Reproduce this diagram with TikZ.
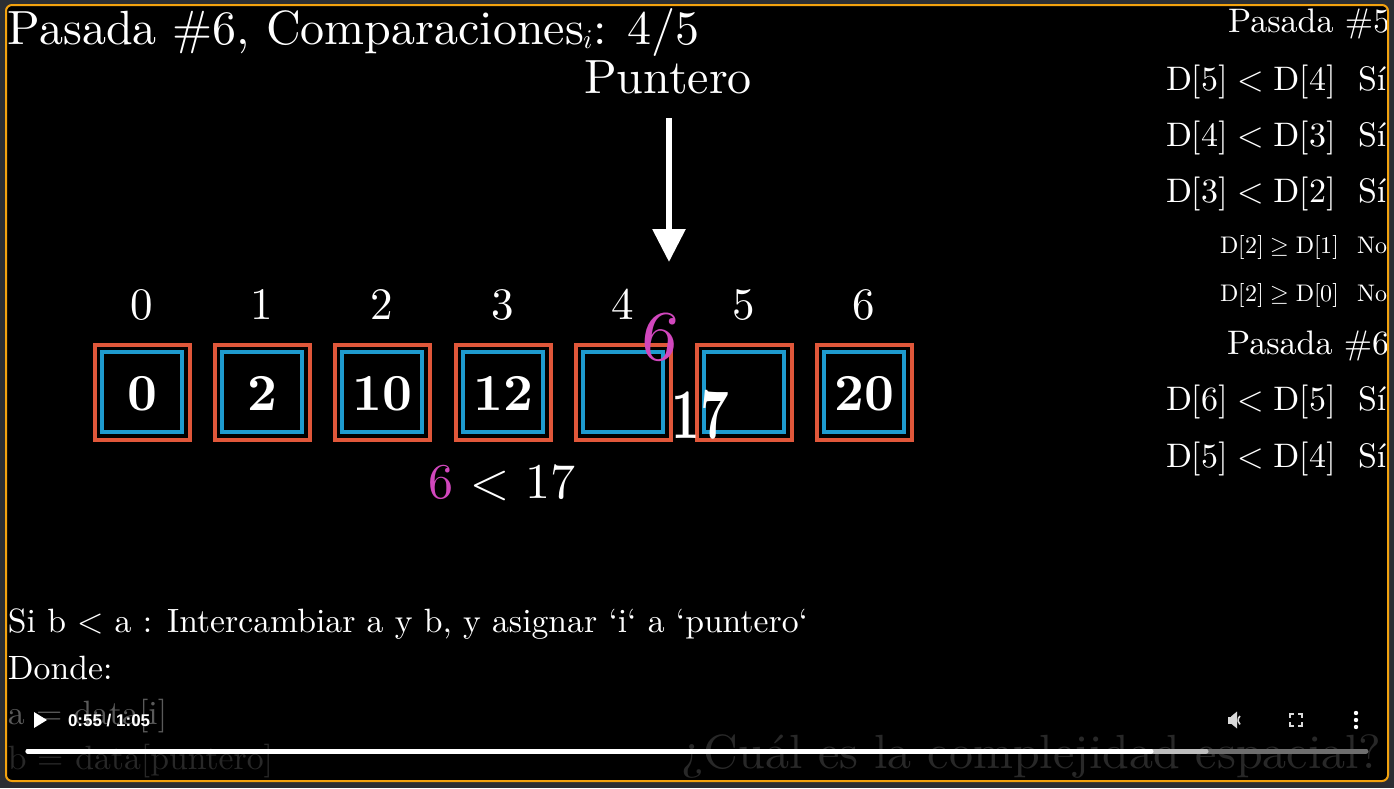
\documentclass[tikz,border=0pt]{standalone}
\usepackage{fontspec}
\usepackage{unicode-math}
\setmainfont{lmroman10}[Extension=.otf, UprightFont=*-regular, BoldFont=*-bold, ItalicFont=*-italic, BoldItalicFont=*-bolditalic]
\newfontfamily\uifont{Liberation Sans}
\usetikzlibrary{arrows.meta}
\definecolor{bggray}{HTML}{2B2E33}
\definecolor{frameorange}{HTML}{F2A20F}
\definecolor{boxorange}{HTML}{E0573A}
\definecolor{boxblue}{HTML}{1E9BCF}
\definecolor{mpink}{HTML}{D147BD}
\definecolor{fadeA}{HTML}{5A5A5A}
\definecolor{fadeB}{HTML}{282828}
\definecolor{barlight}{HTML}{BDBDBD}
\definecolor{bardark}{HTML}{6E6E6E}
\newcommand\fsz[1]{\fontsize{#1}{#1}\selectfont}
\begin{document}
\begin{tikzpicture}[x=1pt,y=-1pt,
  txt/.style={text=white, inner sep=0pt, outer sep=0pt},
  outerbox/.style={draw=boxorange, line width=4pt, minimum size=95pt, inner sep=0pt, shape=rectangle},
  innerbox/.style={draw=boxblue, line width=4pt, minimum size=80pt, inner sep=0pt, shape=rectangle},
  valtxt/.style={txt, font=\fsz{52}\bfseries},
  idxtxt/.style={txt, font=\fsz{45}, anchor=base},
  bigrow/.style={txt, font=\fsz{34}, anchor=base west},
  smallrow/.style={txt, font=\fsz{24}, anchor=base west},
  bottxt/.style={txt, font=\fsz{33.7}, anchor=base west}]
\useasboundingbox (0,0) rectangle (1394,788);
\fill[bggray] (0,0) rectangle (1394,788);
\fill[black, rounded corners=6pt] (6,5) rectangle (1388,781);
\begin{scope}
\clip[rounded corners=6pt] (6,5) rectangle (1388,781);
% title
\node[txt, font=\fsz{48}, anchor=base west] (title) at (8,44) {Pasada \#6, Comparaciones\raisebox{-4pt}{\fsz{27}$i$}: 4/5};
% pointer
\node[txt, font=\fsz{48}, anchor=base] (punt) at (668,93) {Puntero};
\coordinate (atop) at (669,118);
\coordinate (atip) at (669,262);
\draw[white, line width=6pt, -{Triangle[width=32pt,length=33pt]}] (atop) -- (atip);
% boxes
\foreach \i/\x/\v in {0/142/0,1/262/2,2/382/10,3/503/12,4/623/,5/744/,6/864/20}{
  \node[outerbox] (o\i) at (\x,392) {};
  \node[innerbox] (b\i) at (\x,392) {};
  \node[valtxt, anchor=base] (v\i) at (\x,410) {\v};
  \node[idxtxt] (i\i) at (\x,319) {\i};
}
% moving values
\node[txt, text=mpink, font=\fsz{72}, rotate=-8] (six) at (661,337) {6};
\node[txt, font=\fsz{62}\bfseries, xscale=0.8, yscale=1.15] (svn) at (700,415) {17};
\node[txt, font=\fsz{50}, anchor=base] (cmp) at (502,498) {\textcolor{mpink}{6} $<$ 17};
% right panel
\node[txt, font=\fsz{34}, anchor=base west] (p5) at (1228,32) {Pasada \#5};
\node[bigrow] (r1) at (1166,90) {$\mathrm{D}[5] < \mathrm{D}[4]$};
\node[bigrow] (s1) at (1358,90) {Sí};
\node[bigrow] (r2) at (1166,146) {$\mathrm{D}[4] < \mathrm{D}[3]$};
\node[bigrow] (s2) at (1358,146) {Sí};
\node[bigrow] (r3) at (1166,202) {$\mathrm{D}[3] < \mathrm{D}[2]$};
\node[bigrow] (s3) at (1358,202) {Sí};
\node[smallrow] (r4) at (1220,253) {$\mathrm{D}[2] \geq \mathrm{D}[1]$};
\node[smallrow] (s4) at (1357,253) {No};
\node[smallrow] (r5) at (1220,301) {$\mathrm{D}[2] \geq \mathrm{D}[0]$};
\node[smallrow] (s5) at (1357,301) {No};
\node[txt, font=\fsz{34}, anchor=base west] (p6) at (1227,354) {Pasada \#6};
\node[bigrow] (r6) at (1166,410) {$\mathrm{D}[6] < \mathrm{D}[5]$};
\node[bigrow] (s6) at (1358,410) {Sí};
\node[bigrow] (r7) at (1166,467) {$\mathrm{D}[5] < \mathrm{D}[4]$};
\node[bigrow] (s7) at (1358,467) {Sí};
% bottom text
\node[bottxt] (l1) at (8,632) {Si b $<$ a : Intercambiar a y b, y asignar ‘i‘ a ‘puntero‘};
\node[bottxt] (l2) at (8,679) {Donde:};
\node[bottxt, text=fadeA] (l3) at (8,724) {a $=$ data[i]};
\node[bottxt, text=fadeB] (l4) at (8,769) {b $=$ data[puntero]};
\node[txt, text=fadeB, font=\fsz{48}, anchor=base west] (q) at (681,768) {¿Cuál es la complejidad espacial?};
% player overlay
\fill[white] (34,712) -- (47,720) -- (34,728) -- cycle;
\node[txt, font=\uifont\bfseries\fsz{17}, anchor=base west] (time) at (68,726) {0:55 / 1:05};
\fill[white!85!black] (1228,716.5) rectangle (1232,723.5);
\fill[white!85!black] (1231,716.5) -- (1237,711.5) -- (1237,728.5) -- (1231,723.5) -- cycle;
\draw[white!85!black, line width=1.6pt] (1240,716) arc[start angle=-50, end angle=50, radius=-5.5pt];
\draw[white!85!black, line width=1.4pt] (1290,718) -- (1290,714) -- (1294,714) (1298,714) -- (1302,714) -- (1302,718)
  (1302,722) -- (1302,726) -- (1298,726) (1294,726) -- (1290,726) -- (1290,722);
\foreach \yy in {713,720,727}{ \fill[white] (1356,\yy) circle[radius=2.2pt]; }
\draw[bardark, line width=5pt, line cap=round] (28,751) -- (1366,751);
\draw[barlight, line width=5pt, line cap=round] (28,751) -- (1206,751);
\draw[white, line width=5pt, line cap=round] (28,751) -- (1151,751);
\end{scope}
\draw[frameorange, line width=2pt, rounded corners=6pt] (6,5) rectangle (1388,781);
\end{tikzpicture}
\end{document}
